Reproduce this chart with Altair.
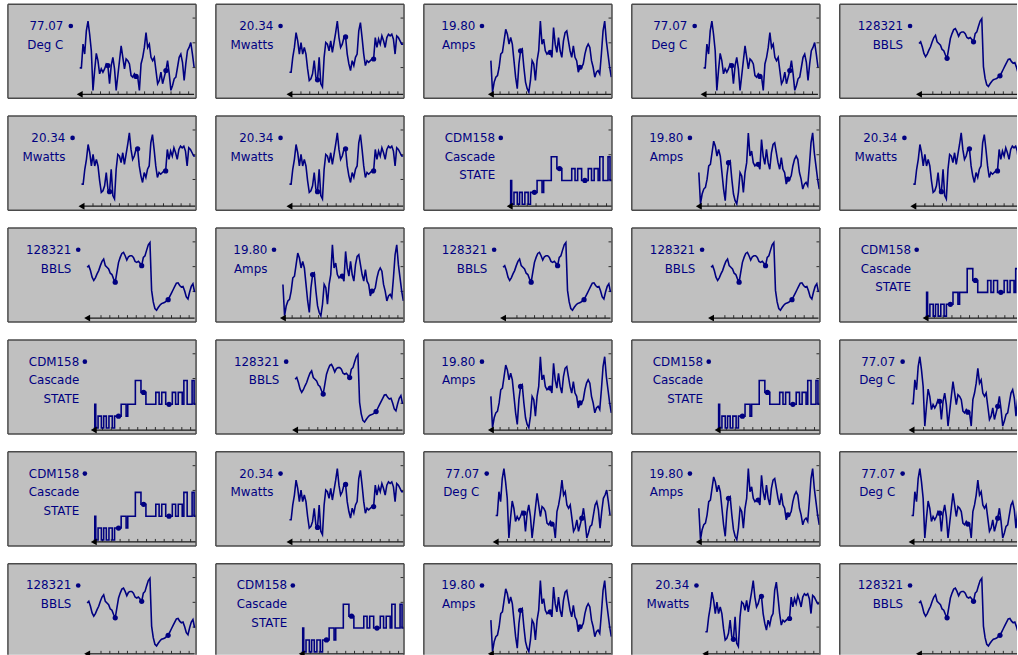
import altair as alt
import pandas as pd

# ---- channel readings (raw counts, 0..300 span of the strip) ----
degc_values = [74, 74, 146, 116, 186, 216, 176, 126, 6, 66, 118, 96, 56, 71, 61, 71, 86, 81, 26, 81,
               106, 71, 6, 51, 96, 141, 106, 71, 101, 96, 86, 51, 46, 56, 48, 46, 6, 86, 106, 136,
               181, 136, 146, 106, 96, 106, 66, 26, 36, 61, 26, 46, 66, 96, 56, 6, 21, 41, 46, 76,
               106, 116, 91, 36, 86, 126, 136, 151, 116, 76]
degc_markers = [17, 34, 52]

mwatts_values = [61, 61, 106, 136, 181, 156, 116, 151, 116, 136, 116, 71, 36, 41, 56, 96, 46, 38, 106, 26,
                 16, 106, 151, 146, 126, 156, 121, 151, 181, 216, 166, 136, 146, 166, 168, 116, 86, 66, 96, 81,
                 106, 116, 186, 211, 166, 116, 81, 96, 91, 96, 101, 101, 166, 136, 161, 146, 171, 156, 136, 166,
                 176, 171, 176, 161, 116, 171, 166, 156, 146, 146]
mwatts_markers = [17, 34, 51]

amps_values = [96, 1, 31, 46, 51, 76, 116, 121, 156, 191, 176, 146, 166, 146, 96, 46, 11, 86, 126, 131,
               76, 31, 11, 1, 36, 96, 86, 36, 96, 126, 216, 146, 161, 126, 116, 121, 121, 106, 196, 146,
               121, 166, 126, 106, 156, 181, 186, 156, 126, 106, 141, 106, 96, 61, 76, 76, 86, 116, 136, 146,
               136, 96, 76, 46, 61, 66, 56, 116, 186, 216, 156, 116, 76, 46]
amps_markers = [18, 36, 54]

bbls_values = [148, 153, 138, 118, 108, 116, 128, 138, 153, 166, 173, 153, 148, 143, 130, 126, 113, 103, 133, 163,
               178, 190, 193, 183, 170, 180, 183, 183, 178, 166, 163, 166, 160, 153, 178, 183, 200, 216, 223, 78,
               43, 23, 18, 26, 33, 38, 40, 42, 46, 50, 60, 70, 80, 90, 100, 101, 93, 88, 90, 76,
               58, 52, 73, 90, 98, 73]
bbls_markers = [17, 33, 49]

# cascade state: time of each change and the state entered
cdm_times = [0, 3, 6, 13, 23, 30, 38, 46, 56, 63, 83, 98, 103, 126, 143, 158, 188, 198, 206, 218,
             238, 248, 256, 268, 273, 283, 298, 304, 310]
cdm_states = [0, 2, 0, 1, 0, 1, 0, 1, 0, 1, 2, 1, 2, 4, 3, 2, 3, 2, 3, 2,
              3, 2, 3, 2, 4, 2, 4, 2, 2]
cdm_markers = [75, 151, 228]

# legend text of each channel
degc_labels = ["77.07", "Deg C"]
mwatts_labels = ["20.34", "Mwatts"]
amps_labels = ["19.80", "Amps"]
bbls_labels = ["128321", "BBLS"]
cdm_labels = ["CDM158", "Cascade", "STATE"]

# which channel sits in each strip of the wall
grid_rows = [
    ["degc", "mwatts", "amps", "degc", "bbls"],
    ["mwatts", "mwatts", "cdm", "amps", "mwatts"],
    ["bbls", "amps", "bbls", "bbls", "cdm"],
    ["cdm", "bbls", "amps", "cdm", "degc"],
    ["cdm", "mwatts", "degc", "amps", "degc"],
    ["bbls", "cdm", "amps", "mwatts", "bbls"],
]

# ---- strip styling / layout ----
PANEL_W, PANEL_H = 190, 95
EDGE_W, EDGE_H = 179, 92          # strips cut by the edge of the wall
H_GAP, V_GAP = 18, 16
NAVY = "#000080"
FRAME = "#4a4a4a"
TEXT_FONT = "DejaVu Sans"
AXIS_V = -6                       # baseline of the time axis (counts)
TICK_LEN = 9                      # tick height (counts)
RIGHT_TICKS = [75, 150, 225]

CHANNELS = {
    "degc": dict(values=degc_values, markers=degc_markers, labels=degc_labels,
                 x0=72.5, x1=188, text_x=56, dot_x=63.5),
    "mwatts": dict(values=mwatts_values, markers=mwatts_markers, labels=mwatts_labels,
                   x0=74.3, x1=189.3, text_x=58, dot_x=65.3),
    "amps": dict(values=amps_values, markers=amps_markers, labels=amps_labels,
                 x0=67.7, x1=189.3, text_x=52, dot_x=58.7),
    "bbls": dict(values=bbls_values, markers=bbls_markers, labels=bbls_labels,
                 x0=80, x1=188.5, text_x=64, dot_x=71),
    "cdm": dict(times=cdm_times, states=cdm_states, markers=cdm_markers, labels=cdm_labels,
                x0=86.7, x1=190, text_x=72, dot_x=77.7),
}


def x_ticks(tmax, x0, x1, step_px=8.9, end_gap_px=5.5):
    per_px = tmax / (x1 - x0)
    vals = []
    p = x1 - end_gap_px
    while p > x0 + 7:
        vals.append(round((p - x0) * per_px, 3))
        p -= step_px
    return sorted(vals)


def strip(key, w, h, right_edge, bottom_edge):
    c = CHANNELS[key]
    if "values" in c:
        df = pd.DataFrame({"t": list(range(len(c["values"]))), "v": c["values"]})
        tmax = len(c["values"]) - 1
        interp = "linear"
        mk = df[df["t"].isin(c["markers"])]
    else:
        df = pd.DataFrame({"t": c["times"], "state": c["states"]})
        df["v"] = df["state"] * 36
        tmax = c["times"][-1]
        interp = "step-after"
        rows = []
        for m in c["markers"]:
            st = df[df["t"] <= m]["state"].iloc[-1]
            rows.append({"t": m, "v": st * 36})
        mk = pd.DataFrame(rows)

    xs = alt.Scale(domain=[0, tmax], range=[c["x0"], c["x1"]], nice=False, zero=False)
    ys = alt.Scale(domain=[0, 300], range=[89, -11], nice=False, zero=False)
    X = lambda f: alt.X(f, scale=xs, axis=None)
    Y = lambda f: alt.Y(f, scale=ys, axis=None)

    # time axis: baseline, ticks and the arrow head
    base = alt.Chart(pd.DataFrame({"t0": [0], "t1": [tmax], "v": [AXIS_V]})).mark_rule(
        color="#1a1a1a", strokeWidth=1.3, clip=True
    ).encode(x=X("t0:Q"), x2="t1:Q", y=Y("v:Q"))
    tk = pd.DataFrame({"t": x_ticks(tmax, c["x0"], c["x1"])})
    tk["v0"], tk["v1"] = AXIS_V, AXIS_V + TICK_LEN
    ticks = alt.Chart(tk).mark_rule(color="#2a2a2a", strokeWidth=1, clip=True).encode(
        x=X("t:Q"), y=Y("v0:Q"), y2="v1:Q"
    )
    arrow = alt.Chart(pd.DataFrame({"t": [0], "v": [AXIS_V]})).mark_point(
        shape="triangle-left", filled=True, color="#000000", size=48, opacity=1
    ).encode(x=X("t:Q"), y=Y("v:Q"))

    # value scale ticks on the right edge
    rt = alt.Chart(pd.DataFrame({"v": RIGHT_TICKS})).mark_rule(
        color="#2a2a2a", strokeWidth=1, clip=True
    ).encode(y=Y("v:Q"), x=alt.value(PANEL_W - 3.5), x2=alt.value(PANEL_W - 0.5))

    line = alt.Chart(df).mark_line(
        color=NAVY, strokeWidth=1.6, interpolate=interp, clip=True
    ).encode(x=X("t:Q"), y=Y("v:Q"))
    dots = alt.Chart(mk).mark_circle(color=NAVY, size=28, opacity=1, clip=True).encode(
        x=X("t:Q"), y=Y("v:Q")
    )

    layers = [base, ticks, rt, line, dots, arrow]

    lab_df = pd.DataFrame({"label": c["labels"]})
    for i, text in enumerate(c["labels"]):
        layers.append(
            alt.Chart(lab_df).transform_filter(alt.datum.label == text).mark_text(
                align="right", baseline="middle", font=TEXT_FONT, fontSize=12, color=NAVY
            ).encode(text="label:N", x=alt.value(c["text_x"]), y=alt.value(22 + 19 * i))
        )
    layers.append(
        alt.Chart(lab_df).transform_filter(alt.datum.label == c["labels"][0]).mark_circle(
            color=NAVY, size=22, opacity=1
        ).encode(x=alt.value(c["dot_x"]), y=alt.value(22))
    )

    # strip frame (the sides cut by the wall edge are not drawn)
    one = pd.DataFrame({"k": [0]})
    frame = alt.Chart(one).mark_rule(color=FRAME, strokeWidth=1.5)
    layers.append(frame.encode(x=alt.value(0), y=alt.value(0), y2=alt.value(h)))
    layers.append(frame.encode(x=alt.value(0), x2=alt.value(w), y=alt.value(0)))
    if not right_edge:
        layers.append(frame.encode(x=alt.value(w), y=alt.value(0), y2=alt.value(h)))
    if not bottom_edge:
        layers.append(frame.encode(x=alt.value(0), x2=alt.value(w), y=alt.value(h)))

    return alt.layer(*layers).properties(width=w, height=h)


rows = []
n_rows = len(grid_rows)
for r, row in enumerate(grid_rows):
    cells = []
    for ci, key in enumerate(row):
        last_c = ci == len(row) - 1
        last_r = r == n_rows - 1
        cells.append(strip(key, EDGE_W if last_c else PANEL_W, EDGE_H if last_r else PANEL_H,
                           last_c, last_r))
    rows.append(alt.hconcat(*cells, spacing=H_GAP))

chart = alt.vconcat(*rows, spacing=V_GAP).properties(
    padding={"left": 7, "top": 0, "right": 0, "bottom": 0},
    background="#ffffff",
).configure_view(fill="#c0c0c0", stroke=None)

chart.save("out.html", embed_options={"renderer": "svg", "actions": False})
